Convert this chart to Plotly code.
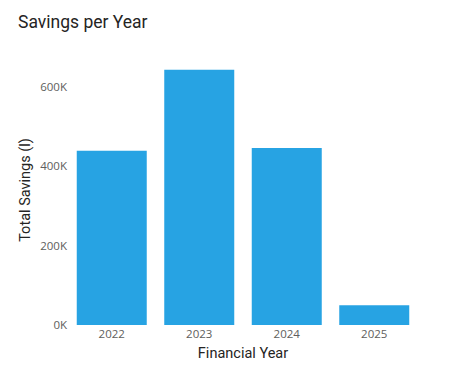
import plotly.graph_objects as go

years = ["2022", "2023", "2024", "2025"]
savings = [439000, 643000, 446000, 50000]
y_ticks = [0, 200000, 400000, 600000]
y_tick_labels = ["0K", "200K", "400K", "600K"]

fig = go.Figure(go.Bar(x=years, y=savings, marker=dict(color="#27A3E3", line=dict(width=0))))

fig.update_layout(
    width=473, height=388,
    margin=dict(l=68, r=55, t=55, b=63),
    paper_bgcolor="white", plot_bgcolor="white",
    bargap=0.2,
    showlegend=False,
    title=dict(text="Savings per Year", x=18/473, xanchor="left", y=1-22/388, yanchor="middle",
               font=dict(family="Roboto", size=17.5, color="#252423")),
    font=dict(family="Open Sans", color="#605E5C"),
)
fig.update_xaxes(
    title=dict(text="Financial Year", font=dict(family="Roboto", size=14.5, color="#252423"), standoff=8),
    tickfont=dict(size=11.5, color="#605E5C"), showgrid=False, showline=False, ticks="", zeroline=False,
)
fig.update_yaxes(
    title=dict(text="Total Savings (l)", font=dict(family="Roboto", size=14.5, color="#252423"), standoff=6),
    range=[0, 680000], tickvals=y_ticks, ticktext=y_tick_labels,
    tickfont=dict(size=11.5, color="#605E5C"), showgrid=False, showline=False, zeroline=False, ticks="",
)

fig.write_html("out.html")
